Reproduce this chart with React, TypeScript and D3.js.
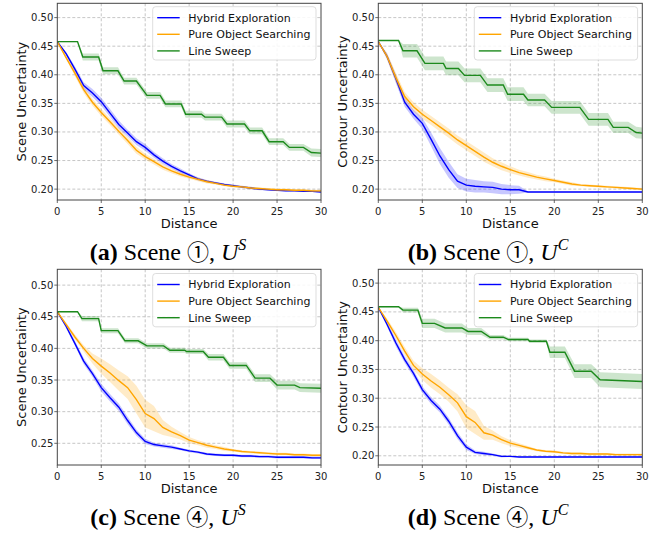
import React from 'react';
import * as d3 from 'd3';

// distance samples for the two smooth methods
const distance = [0, 1, 2, 3, 4, 5, 6, 7, 8, 9, 10, 11, 12, 13, 14, 15, 16, 17, 18, 19, 20, 21, 22, 23, 24, 25, 26, 27, 28, 29, 30];

// (a) Scene 1, U^S
const aHybrid = [0.458, 0.437, 0.410, 0.381, 0.368, 0.353, 0.333, 0.313, 0.298, 0.283, 0.273, 0.260, 0.249, 0.240, 0.232, 0.225, 0.218, 0.214, 0.211, 0.208, 0.206, 0.204, 0.202, 0.200, 0.199, 0.198, 0.197, 0.197, 0.196, 0.196, 0.195];
const aHybridSd = [0, 0.003, 0.005, 0.006, 0.007, 0.007, 0.007, 0.007, 0.006, 0.006, 0.006, 0.005, 0.005, 0.004, 0.004, 0.003, 0.003, 0.002, 0.002, 0.002, 0.002, 0.002, 0.002, 0.002, 0.001, 0.001, 0.001, 0.001, 0.001, 0.001, 0.001];
const aPure = [0.458, 0.430, 0.403, 0.374, 0.352, 0.334, 0.318, 0.301, 0.285, 0.268, 0.257, 0.248, 0.239, 0.232, 0.226, 0.221, 0.217, 0.213, 0.210, 0.207, 0.205, 0.204, 0.202, 0.201, 0.200, 0.199, 0.199, 0.198, 0.198, 0.197, 0.197];
const aPureSd = [0, 0.003, 0.005, 0.006, 0.006, 0.006, 0.006, 0.006, 0.006, 0.006, 0.005, 0.005, 0.005, 0.004, 0.004, 0.003, 0.003, 0.003, 0.002, 0.002, 0.002, 0.002, 0.002, 0.002, 0.002, 0.002, 0.002, 0.002, 0.002, 0.002, 0.002];
const aSweepX = [0, 2.3, 2.9, 4.7, 5.2, 6.9, 7.6, 9.0, 10.2, 11.7, 12.3, 14.1, 14.6, 16.4, 16.8, 18.7, 19.3, 21.3, 21.9, 23.3, 24.1, 25.7, 26.4, 28.0, 28.9, 30];
const aSweepY = [0.458, 0.458, 0.431, 0.431, 0.407, 0.407, 0.389, 0.389, 0.364, 0.364, 0.349, 0.349, 0.331, 0.331, 0.326, 0.326, 0.314, 0.314, 0.302, 0.302, 0.283, 0.283, 0.273, 0.273, 0.264, 0.263];
const aSweepSd = [0.001, 0.001, 0.006, 0.006, 0.006, 0.006, 0.006, 0.006, 0.006, 0.006, 0.006, 0.006, 0.006, 0.006, 0.006, 0.006, 0.006, 0.006, 0.006, 0.006, 0.006, 0.006, 0.006, 0.006, 0.007, 0.007];

// (b) Scene 1, U^C
const bHybrid = [0.458, 0.432, 0.393, 0.352, 0.331, 0.315, 0.287, 0.258, 0.234, 0.214, 0.207, 0.205, 0.204, 0.203, 0.200, 0.199, 0.199, 0.195, 0.195, 0.195, 0.195, 0.195, 0.195, 0.195, 0.195, 0.195, 0.195, 0.195, 0.195, 0.195, 0.195];
const bHybridSd = [0, 0.005, 0.008, 0.008, 0.008, 0.010, 0.012, 0.014, 0.014, 0.012, 0.011, 0.011, 0.010, 0.010, 0.009, 0.008, 0.007, 0.001, 0.001, 0.001, 0.001, 0.001, 0.001, 0.001, 0.001, 0.001, 0.001, 0.001, 0.001, 0.001, 0.001];
const bPure = [0.458, 0.432, 0.395, 0.362, 0.344, 0.331, 0.320, 0.309, 0.298, 0.286, 0.276, 0.266, 0.256, 0.247, 0.240, 0.234, 0.229, 0.225, 0.221, 0.218, 0.215, 0.212, 0.209, 0.207, 0.206, 0.205, 0.204, 0.203, 0.202, 0.201, 0.200];
const bPureSd = [0, 0.006, 0.008, 0.008, 0.008, 0.008, 0.008, 0.008, 0.008, 0.008, 0.008, 0.008, 0.008, 0.007, 0.007, 0.006, 0.005, 0.005, 0.004, 0.004, 0.003, 0.003, 0.003, 0.002, 0.002, 0.002, 0.002, 0.002, 0.002, 0.002, 0.002];
const bSweepX = [0, 2.3, 2.8, 4.4, 5.3, 7.4, 7.7, 9.1, 9.8, 11.6, 12.4, 14.2, 14.7, 16.5, 17.0, 18.9, 19.7, 22.9, 23.9, 26.1, 26.7, 28.4, 29.3, 30];
const bSweepY = [0.460, 0.460, 0.442, 0.442, 0.420, 0.420, 0.411, 0.411, 0.399, 0.399, 0.382, 0.382, 0.366, 0.366, 0.356, 0.356, 0.343, 0.343, 0.322, 0.322, 0.308, 0.308, 0.299, 0.298];
const bSweepSd = [0.001, 0.001, 0.012, 0.012, 0.012, 0.012, 0.012, 0.012, 0.012, 0.012, 0.012, 0.012, 0.012, 0.012, 0.011, 0.011, 0.011, 0.011, 0.011, 0.011, 0.010, 0.010, 0.010, 0.010];

// (c) Scene 4, U^S
const cHybrid = [0.458, 0.435, 0.408, 0.380, 0.360, 0.338, 0.322, 0.307, 0.286, 0.267, 0.253, 0.248, 0.246, 0.244, 0.241, 0.238, 0.236, 0.233, 0.232, 0.231, 0.231, 0.230, 0.230, 0.229, 0.229, 0.228, 0.228, 0.228, 0.228, 0.227, 0.227];
const cHybridSd = [0, 0.003, 0.004, 0.005, 0.005, 0.006, 0.006, 0.006, 0.006, 0.005, 0.004, 0.003, 0.003, 0.003, 0.002, 0.002, 0.002, 0.002, 0.002, 0.002, 0.002, 0.002, 0.002, 0.002, 0.002, 0.002, 0.002, 0.002, 0.002, 0.002, 0.002];
const cPure = [0.458, 0.438, 0.418, 0.400, 0.384, 0.372, 0.361, 0.349, 0.338, 0.319, 0.297, 0.289, 0.275, 0.268, 0.262, 0.255, 0.251, 0.247, 0.244, 0.241, 0.239, 0.237, 0.236, 0.235, 0.234, 0.233, 0.233, 0.232, 0.232, 0.231, 0.231];
const cPureSd = [0, 0.003, 0.004, 0.005, 0.008, 0.012, 0.014, 0.016, 0.018, 0.022, 0.022, 0.020, 0.012, 0.008, 0.006, 0.005, 0.004, 0.004, 0.003, 0.003, 0.002, 0.002, 0.002, 0.002, 0.002, 0.002, 0.002, 0.002, 0.002, 0.002, 0.002];
const cSweepX = [0, 2.3, 2.8, 4.7, 5.0, 6.9, 7.7, 9.2, 10.2, 12.1, 12.8, 14.5, 14.7, 16.6, 17.2, 18.9, 19.6, 21.5, 22.5, 24.2, 25.0, 27.0, 27.6, 30];
const cSweepY = [0.458, 0.458, 0.447, 0.447, 0.428, 0.428, 0.412, 0.412, 0.404, 0.404, 0.397, 0.397, 0.395, 0.395, 0.386, 0.386, 0.373, 0.373, 0.353, 0.353, 0.342, 0.342, 0.338, 0.337];
const cSweepSd = [0.001, 0.001, 0.004, 0.004, 0.004, 0.004, 0.004, 0.004, 0.004, 0.004, 0.004, 0.004, 0.004, 0.004, 0.005, 0.005, 0.005, 0.005, 0.006, 0.006, 0.007, 0.007, 0.007, 0.007];

// (d) Scene 4, U^C
const dHybrid = [0.458, 0.428, 0.396, 0.367, 0.343, 0.315, 0.296, 0.281, 0.260, 0.235, 0.215, 0.206, 0.204, 0.202, 0.199, 0.199, 0.198, 0.198, 0.198, 0.198, 0.198, 0.198, 0.198, 0.198, 0.198, 0.198, 0.198, 0.198, 0.198, 0.198, 0.198];
const dHybridSd = [0, 0.004, 0.006, 0.006, 0.006, 0.006, 0.006, 0.006, 0.006, 0.006, 0.005, 0.003, 0.003, 0.002, 0.002, 0.001, 0.001, 0.001, 0.001, 0.001, 0.001, 0.001, 0.001, 0.001, 0.001, 0.001, 0.001, 0.001, 0.001, 0.001, 0.001];
const dPure = [0.458, 0.434, 0.409, 0.382, 0.357, 0.342, 0.330, 0.319, 0.306, 0.292, 0.268, 0.258, 0.240, 0.236, 0.228, 0.222, 0.218, 0.214, 0.210, 0.208, 0.207, 0.205, 0.204, 0.204, 0.203, 0.203, 0.203, 0.202, 0.202, 0.202, 0.202];
const dPureSd = [0, 0.004, 0.006, 0.007, 0.008, 0.010, 0.012, 0.012, 0.012, 0.015, 0.020, 0.020, 0.012, 0.008, 0.006, 0.005, 0.004, 0.003, 0.002, 0.002, 0.002, 0.002, 0.002, 0.002, 0.002, 0.002, 0.002, 0.002, 0.002, 0.002, 0.002];
const dSweepX = [0, 2.3, 2.8, 4.5, 5.0, 6.4, 7.6, 9.5, 10.2, 11.7, 12.7, 14.2, 14.8, 17.0, 17.2, 19.1, 19.5, 21.2, 22.3, 24.2, 25.2, 30];
const dSweepY = [0.459, 0.459, 0.453, 0.453, 0.430, 0.430, 0.422, 0.422, 0.416, 0.416, 0.406, 0.406, 0.402, 0.402, 0.399, 0.399, 0.380, 0.380, 0.347, 0.347, 0.332, 0.329];
const dSweepSd = [0.001, 0.001, 0.004, 0.004, 0.008, 0.008, 0.008, 0.008, 0.006, 0.006, 0.004, 0.004, 0.003, 0.003, 0.003, 0.003, 0.010, 0.010, 0.012, 0.012, 0.013, 0.013];

const seriesNames = ['Hybrid Exploration', 'Pure Object Searching', 'Line Sweep'];
const seriesColors = ['#0000ff', '#ffa500', '#1c8a1c'];
const xTicks = [0, 5, 10, 15, 20, 25, 30];
const yTicksFull = [0.2, 0.25, 0.3, 0.35, 0.4, 0.45, 0.5];
const yTicksC = [0.25, 0.3, 0.35, 0.4, 0.45, 0.5];

const SANS = 'DejaVu Sans, sans-serif';
const SERIF = 'Liberation Serif, Times New Roman, serif';

type Pt = { x: number; y: number; sd: number };
const zip = (xs: number[], ys: number[], sds: number[]): Pt[] => xs.map((x, i) => ({ x, y: ys[i], sd: sds[i] }));

const panels = [
  {
    id: 'a', left: 57.3, right: 321, top: 3.3, bottom: 200, yDomain: [0.181, 0.525], yTicks: yTicksFull,
    yLabel: 'Scene Uncertainty', yLabelX: 25.5, legendX: 152.7, legendY: 6.7,
    capX: 168, capY: 260, letter: 'a', scene: '①', sup: 'S',
    series: [zip(distance, aHybrid, aHybridSd), zip(distance, aPure, aPureSd), zip(aSweepX, aSweepY, aSweepSd)],
  },
  {
    id: 'b', left: 378.3, right: 642.3, top: 3.3, bottom: 200, yDomain: [0.181, 0.525], yTicks: yTicksFull,
    yLabel: 'Contour Uncertainty', yLabelX: 347, legendX: 474.3, legendY: 6.7,
    capX: 488, capY: 260, letter: 'b', scene: '①', sup: 'C',
    series: [zip(distance, bHybrid, bHybridSd), zip(distance, bPure, bPureSd), zip(bSweepX, bSweepY, bSweepSd)],
  },
  {
    id: 'c', left: 57.3, right: 321, top: 269.3, bottom: 465, yDomain: [0.2157, 0.525], yTicks: yTicksC,
    yLabel: 'Scene Uncertainty', yLabelX: 25.5, legendX: 152.7, legendY: 273.5,
    capX: 168, capY: 525, letter: 'c', scene: '④', sup: 'S',
    series: [zip(distance, cHybrid, cHybridSd), zip(distance, cPure, cPureSd), zip(cSweepX, cSweepY, cSweepSd)],
  },
  {
    id: 'd', left: 378.3, right: 642.3, top: 269.3, bottom: 465, yDomain: [0.184, 0.524], yTicks: yTicksFull,
    yLabel: 'Contour Uncertainty', yLabelX: 347, legendX: 474.3, legendY: 273.5,
    capX: 488, capY: 525, letter: 'd', scene: '④', sup: 'C',
    series: [zip(distance, dHybrid, dHybridSd), zip(distance, dPure, dPureSd), zip(dSweepX, dSweepY, dSweepSd)],
  },
];

type PanelCfg = typeof panels[number];

const Panel = ({ p }: { p: PanelCfg }) => {
  const x = d3.scaleLinear().domain([0, 30]).range([p.left, p.right]);
  const y = d3.scaleLinear().domain(p.yDomain).range([p.bottom, p.top]);
  const line = d3.line<Pt>().x(d => x(d.x)).y(d => y(d.y));
  const band = d3.area<Pt>().x(d => x(d.x)).y0(d => y(d.y - d.sd)).y1(d => y(d.y + d.sd));
  const midY = (p.top + p.bottom) / 2;
  const midX = (p.left + p.right) / 2;

  return (
    <g>
      <defs>
        <clipPath id={`clip-${p.id}`}>
          <rect x={p.left} y={p.top} width={p.right - p.left} height={p.bottom - p.top} />
        </clipPath>
      </defs>

      {/* grid */}
      {xTicks.slice(1, -1).map(t => (
        <line key={`gx${t}`} x1={x(t)} x2={x(t)} y1={p.top} y2={p.bottom} stroke="#b8b8b8" strokeWidth={0.8} strokeDasharray="3,2" />
      ))}
      {p.yTicks.map(t => (
        <line key={`gy${t}`} x1={p.left} x2={p.right} y1={y(t)} y2={y(t)} stroke="#b8b8b8" strokeWidth={0.8} strokeDasharray="3,2" />
      ))}

      <g clipPath={`url(#clip-${p.id})`}>
        {p.series.map((s, i) => (
          <g key={i}>
            <path d={band(s) || ''} fill={seriesColors[i]} fillOpacity={0.22} stroke="none" />
            <path d={line(s) || ''} fill="none" stroke={seriesColors[i]} strokeWidth={1.4} />
          </g>
        ))}
      </g>

      {/* frame */}
      <rect x={p.left} y={p.top} width={p.right - p.left} height={p.bottom - p.top} fill="none" stroke="#444" strokeWidth={1} />

      {/* x axis */}
      {xTicks.map(t => (
        <g key={`xt${t}`}>
          <line x1={x(t)} x2={x(t)} y1={p.bottom} y2={p.bottom + 3} stroke="#444" strokeWidth={0.8} />
          <text x={x(t)} y={p.bottom + 14.5} textAnchor="middle" fontFamily={SANS} fontSize={10} fill="#222">{t}</text>
        </g>
      ))}
      <text x={midX} y={p.bottom + 28} textAnchor="middle" fontFamily={SANS} fontSize={13} fill="#111">Distance</text>

      {/* y axis */}
      {p.yTicks.map(t => (
        <g key={`yt${t}`}>
          <line x1={p.left - 3} x2={p.left} y1={y(t)} y2={y(t)} stroke="#444" strokeWidth={0.8} />
          <text x={p.left - 4} y={y(t)} dy="0.35em" textAnchor="end" fontFamily={SANS} fontSize={10} fill="#222">{t.toFixed(2)}</text>
        </g>
      ))}
      <text transform={`translate(${p.yLabelX},${midY}) rotate(-90)`} textAnchor="middle" fontFamily={SANS} fontSize={13} fill="#111">{p.yLabel}</text>

      {/* legend */}
      <g transform={`translate(${p.legendX},${p.legendY})`}>
        <rect x={0} y={0} width={163.3} height={53.3} rx={3} fill="#fff" fillOpacity={0.85} stroke="#d4d4d4" strokeWidth={0.8} />
        {seriesNames.map((n, i) => (
          <g key={n} transform={`translate(0,${11 + i * 16.6})`}>
            <line x1={4.5} x2={27} y1={0} y2={0} stroke={seriesColors[i]} strokeWidth={1.4} />
            <text x={35.6} y={0} dy="0.35em" fontFamily={SANS} fontSize={11} fill="#111">{n}</text>
          </g>
        ))}
      </g>

      {/* caption */}
      <text x={p.capX} y={p.capY} textAnchor="middle" fontFamily={SERIF} fontSize={24} fill="#000">
        <tspan fontWeight="bold">{`(${p.letter})`}</tspan>
        <tspan>{' Scene '}</tspan>
        <tspan fontFamily="Noto Sans CJK JP" fontSize={22}>{p.scene}</tspan>
        <tspan>{', '}</tspan>
        <tspan fontStyle="italic">U</tspan>
        <tspan fontStyle="italic" fontSize={16} dy={-10}>{p.sup}</tspan>
      </text>
    </g>
  );
};

export default function App() {
  return (
    <svg width={670} height={533} style={{ position: 'absolute', left: 0, top: 0, display: 'block', background: '#fff' }}>
      <rect x={0} y={0} width={670} height={533} fill="#fff" />
      {panels.map(p => <Panel key={p.id} p={p} />)}
    </svg>
  );
}
